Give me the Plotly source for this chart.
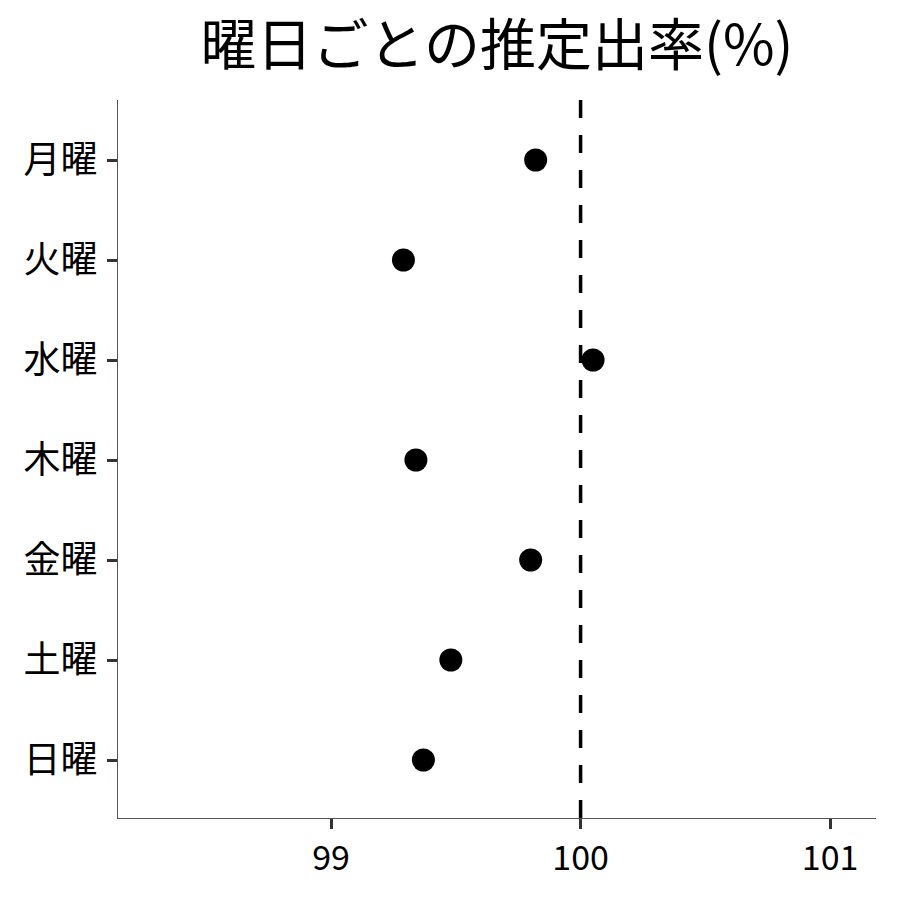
import plotly.graph_objects as go

days = ["月曜", "火曜", "水曜", "木曜", "金曜", "土曜", "日曜"]
rates = [99.82, 99.29, 100.05, 99.34, 99.80, 99.48, 99.37]
reference_rate = 100
x_ticks = [99, 100, 101]
title_text = "曜日ごとの推定出率(%)"

FONT = "Noto Sans CJK JP"

fig = go.Figure()
fig.add_trace(go.Scatter(
    x=rates, y=days, mode="markers",
    marker=dict(color="black", size=23),
    showlegend=False,
))
fig.add_shape(type="line", xref="x", yref="paper",
              x0=reference_rate, x1=reference_rate, y0=0, y1=1,
              line=dict(color="black", width=3.5, dash="18px,17px"))

fig.update_layout(
    width=900, height=900,
    paper_bgcolor="white", plot_bgcolor="white",
    margin=dict(l=110, r=32, t=92, b=90, autoexpand=False),
    font=dict(family=FONT, color="black", size=34),
    title=dict(text=title_text, x=0.5, xanchor="center", xref="paper",
               y=0.959, yanchor="middle", font=dict(size=56, family=FONT)),
)
fig.update_xaxes(
    range=[98.146, 101.184], tickvals=x_ticks, ticktext=[str(v) for v in x_ticks],
    showgrid=False, zeroline=False, showline=True, linecolor="#555555", linewidth=1.2,
    ticks="outside", ticklen=10, tickwidth=3, tickcolor="#333333",
    tickfont=dict(size=34, color="black"), automargin=False,
)
fig.update_yaxes(
    type="category", categoryorder="array", categoryarray=days,
    range=[6.58, -0.6],
    showgrid=False, zeroline=False, showline=True, linecolor="#555555", linewidth=1.2,
    ticks="outside", ticklen=10, tickwidth=3, tickcolor="#333333",
    tickfont=dict(size=37, color="black"), ticklabelstandoff=2, automargin=False,
)
fig.write_html("out.html")
